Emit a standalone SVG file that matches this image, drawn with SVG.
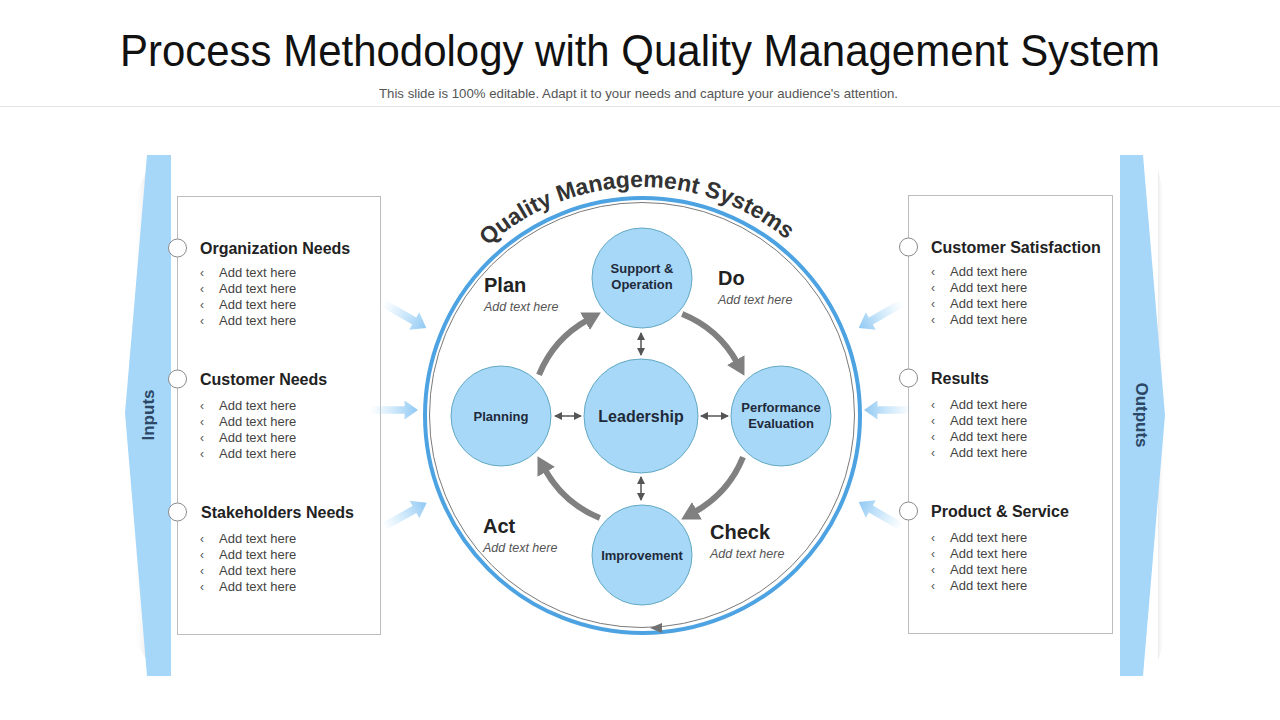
<svg xmlns="http://www.w3.org/2000/svg" width="1280" height="720" viewBox="0 0 1280 720">
<defs>
<style>
.title{font-family:"Liberation Sans",Arial,sans-serif;font-size:44px;fill:#111;}
.sub{font-family:"Liberation Sans",Arial,sans-serif;font-size:13px;fill:#555;}
.head{font-family:"Liberation Sans",Arial,sans-serif;font-size:16px;font-weight:bold;fill:#222;}
.item{font-family:"Liberation Sans",Arial,sans-serif;font-size:13px;fill:#444;}
.bul{font-family:"Liberation Sans",Arial,sans-serif;font-size:12px;fill:#555;}
.bar{fill:#a6d7f9;}
.barlbl{font-family:"Liberation Sans",Arial,sans-serif;font-size:17px;font-weight:bold;fill:#2c4866;}
.node{fill:#a8d8f8;stroke:#62a9c2;stroke-width:1;}
.nlbl{font-family:"Liberation Sans",Arial,sans-serif;font-size:13px;font-weight:bold;fill:#1e2a3a;text-anchor:middle;}
.phase{font-family:"Liberation Sans",Arial,sans-serif;font-size:20px;font-weight:bold;fill:#222;}
.phsub{font-family:"Liberation Sans",Arial,sans-serif;font-size:12.5px;font-style:italic;fill:#555;}
.panel{fill:#fff;stroke:#bdbdbd;stroke-width:1;}
.dot{fill:#fff;stroke:#8a8a8a;stroke-width:1;}
.cyc{fill:none;stroke:#808080;stroke-width:6;marker-end:url(#bigHead);}
.dbl{fill:none;stroke:#555;stroke-width:1.5;marker-start:url(#smallHead);marker-end:url(#smallHead);}
.inarrow{fill:url(#fadeGrad);}
</style>
<marker id="bigHead" markerUnits="userSpaceOnUse" viewBox="0 0 18 20" refX="3" refY="10" markerWidth="18" markerHeight="20" orient="auto">
<path d="M0,0 L18,10 L0,20 z" fill="#808080"/>
</marker>
<marker id="smallHead" markerUnits="userSpaceOnUse" viewBox="0 0 8 8" refX="7" refY="4" markerWidth="8" markerHeight="8" orient="auto-start-reverse">
<path d="M0,0 L8,4 L0,8 z" fill="#555"/>
</marker>
<linearGradient id="fadeGrad" x1="0" y1="0" x2="1" y2="0">
<stop offset="0" stop-color="#a6d7f9" stop-opacity="0"/>
<stop offset="1" stop-color="#8fc8f3" stop-opacity="1"/>
</linearGradient>
<linearGradient id="shadowL" x1="1" y1="0" x2="0" y2="0">
<stop offset="0" stop-color="#e6e6e6" stop-opacity="0.8"/>
<stop offset="1" stop-color="#ffffff" stop-opacity="0"/>
</linearGradient>
<linearGradient id="shadowR" x1="0" y1="0" x2="1" y2="0">
<stop offset="0" stop-color="#e6e6e6" stop-opacity="0.8"/>
<stop offset="1" stop-color="#ffffff" stop-opacity="0"/>
</linearGradient>
<path id="arcText" d="M413,415 A228,228 0 0 1 869,415"/>
<path id="inArrow" d="M0,-4 L36,-4 L36,-10 L50,0 L36,10 L36,4 L0,4 z"/>
</defs>

<rect x="0" y="0" width="1280" height="720" fill="#ffffff"/>

<g id="header">
<text class="title" x="640" y="66" text-anchor="middle" textLength="1040" lengthAdjust="spacingAndGlyphs">Process Methodology with Quality Management System</text>
<text class="sub" x="638.5" y="98" text-anchor="middle" textLength="519" lengthAdjust="spacingAndGlyphs">This slide is 100% editable. Adapt it to your needs and capture your audience's attention.</text>
<line x1="0" y1="106.5" x2="1280" y2="106.5" stroke="#e3e3e3" stroke-width="1"/>
</g>

<g id="inputs-bar">
<polygon points="133,200 147,170 147,660 133,640" fill="url(#shadowL)"/>
<polygon class="bar" points="147,155 171,155 171,676 147,676 125,413"/>
<text class="barlbl" transform="translate(154,415) rotate(-90)" text-anchor="middle">Inputs</text>
</g>

<g id="outputs-bar">
<polygon points="1165,200 1158,170 1158,660 1165,640" fill="url(#shadowR)"/>
<polygon class="bar" points="1120,155 1143,155 1165,415 1143,676 1120,676"/>
<text class="barlbl" transform="translate(1136,415) rotate(90)" text-anchor="middle">Outputs</text>
</g>

<g id="inputs-panel">
<rect class="panel" x="177.5" y="196.5" width="203" height="438"/>
</g>
<g id="input-organization-needs">
<circle class="dot" cx="177.5" cy="248" r="9"/>
<text class="head" x="200" y="254">Organization Needs</text>
<text class="bul" x="200" y="277">‹</text><text class="item" x="219" y="277">Add text here</text>
<text class="bul" x="200" y="293">‹</text><text class="item" x="219" y="293">Add text here</text>
<text class="bul" x="200" y="309">‹</text><text class="item" x="219" y="309">Add text here</text>
<text class="bul" x="200" y="325">‹</text><text class="item" x="219" y="325">Add text here</text>
</g>
<g id="input-customer-needs">
<circle class="dot" cx="177.5" cy="379" r="9"/>
<text class="head" x="200" y="385">Customer Needs</text>
<text class="bul" x="200" y="410">‹</text><text class="item" x="219" y="410">Add text here</text>
<text class="bul" x="200" y="426">‹</text><text class="item" x="219" y="426">Add text here</text>
<text class="bul" x="200" y="442">‹</text><text class="item" x="219" y="442">Add text here</text>
<text class="bul" x="200" y="458">‹</text><text class="item" x="219" y="458">Add text here</text>
</g>
<g id="input-stakeholders-needs">
<circle class="dot" cx="177.5" cy="512" r="9"/>
<text class="head" x="201" y="518">Stakeholders Needs</text>
<text class="bul" x="200" y="543">‹</text><text class="item" x="219" y="543">Add text here</text>
<text class="bul" x="200" y="559">‹</text><text class="item" x="219" y="559">Add text here</text>
<text class="bul" x="200" y="575">‹</text><text class="item" x="219" y="575">Add text here</text>
<text class="bul" x="200" y="591">‹</text><text class="item" x="219" y="591">Add text here</text>
</g>

<g id="outputs-panel">
<rect class="panel" x="908.5" y="195.5" width="204" height="438"/>
</g>
<g id="output-customer-satisfaction">
<circle class="dot" cx="908.5" cy="247" r="9"/>
<text class="head" x="931" y="253">Customer Satisfaction</text>
<text class="bul" x="931" y="276">‹</text><text class="item" x="950" y="276">Add text here</text>
<text class="bul" x="931" y="292">‹</text><text class="item" x="950" y="292">Add text here</text>
<text class="bul" x="931" y="308">‹</text><text class="item" x="950" y="308">Add text here</text>
<text class="bul" x="931" y="324">‹</text><text class="item" x="950" y="324">Add text here</text>
</g>
<g id="output-results">
<circle class="dot" cx="908.5" cy="378" r="9"/>
<text class="head" x="931" y="384">Results</text>
<text class="bul" x="931" y="409">‹</text><text class="item" x="950" y="409">Add text here</text>
<text class="bul" x="931" y="425">‹</text><text class="item" x="950" y="425">Add text here</text>
<text class="bul" x="931" y="441">‹</text><text class="item" x="950" y="441">Add text here</text>
<text class="bul" x="931" y="457">‹</text><text class="item" x="950" y="457">Add text here</text>
</g>
<g id="output-product-service">
<circle class="dot" cx="908.5" cy="511" r="9"/>
<text class="head" x="931" y="517">Product &amp; Service</text>
<text class="bul" x="931" y="542">‹</text><text class="item" x="950" y="542">Add text here</text>
<text class="bul" x="931" y="558">‹</text><text class="item" x="950" y="558">Add text here</text>
<text class="bul" x="931" y="574">‹</text><text class="item" x="950" y="574">Add text here</text>
<text class="bul" x="931" y="590">‹</text><text class="item" x="950" y="590">Add text here</text>
</g>

<g id="qms-ring">
<circle cx="642.5" cy="415.5" r="217.5" fill="none" stroke="#4da3e2" stroke-width="4"/>
<circle cx="642" cy="415" r="212.5" fill="none" stroke="#7a7a7a" stroke-width="1"/>
<path d="M650,628 L662,623 L662,633 z" fill="#707070"/>
<text font-family="'Liberation Sans',Arial,sans-serif" font-size="23" font-weight="bold" fill="#333">
<textPath href="#arcText" startOffset="49.3%" text-anchor="middle">Quality Management Systems</textPath>
</text>
</g>

<g id="connectors">
<use href="#inArrow" class="inarrow" transform="translate(383,303) rotate(30)"/>
<use href="#inArrow" class="inarrow" transform="translate(370,410) scale(0.96,0.95)"/>
<use href="#inArrow" class="inarrow" transform="translate(383,527) rotate(-29)"/>
<use href="#inArrow" class="inarrow" transform="translate(902,303) rotate(150)"/>
<use href="#inArrow" class="inarrow" transform="translate(912,410) rotate(180) scale(0.96,0.95)"/>
<use href="#inArrow" class="inarrow" transform="translate(902,527) rotate(-150)"/>

<path class="cyc" d="M539,374.8 A110,110 0 0 1 587.7,319.8"/>
<path class="cyc" d="M682.2,314 A110,110 0 0 1 737.2,362.7"/>
<path class="cyc" d="M743,457.2 A110,110 0 0 1 694.3,512.2"/>
<path class="cyc" d="M599.8,518 A110,110 0 0 1 544.8,469.3"/>

<line class="dbl" x1="641" y1="333" x2="641" y2="355"/>
<line class="dbl" x1="641" y1="477" x2="641" y2="500"/>
<line class="dbl" x1="555" y1="416" x2="581" y2="416"/>
<line class="dbl" x1="701" y1="416" x2="728" y2="416"/>
</g>

<g id="node-support-operation">
<circle class="node" cx="642" cy="278" r="50"/>
<text class="nlbl" x="642" y="273">Support &amp;</text>
<text class="nlbl" x="642" y="289">Operation</text>
</g>
<g id="node-planning">
<circle class="node" cx="501" cy="416" r="50"/>
<text class="nlbl" x="501" y="421">Planning</text>
</g>
<g id="node-leadership">
<circle class="node" cx="641" cy="416" r="57"/>
<text class="nlbl" x="641" y="422" style="font-size:16px">Leadership</text>
</g>
<g id="node-performance-evaluation">
<circle class="node" cx="781" cy="416" r="50"/>
<text class="nlbl" x="781" y="412">Performance</text>
<text class="nlbl" x="781" y="428">Evaluation</text>
</g>
<g id="node-improvement">
<circle class="node" cx="642" cy="555" r="50"/>
<text class="nlbl" x="642" y="560">Improvement</text>
</g>

<g id="label-plan">
<text class="phase" x="484" y="292">Plan</text>
<text class="phsub" x="484" y="311">Add text here</text>
</g>
<g id="label-do">
<text class="phase" x="718" y="285">Do</text>
<text class="phsub" x="718" y="304">Add text here</text>
</g>
<g id="label-act">
<text class="phase" x="483" y="533">Act</text>
<text class="phsub" x="483" y="552">Add text here</text>
</g>
<g id="label-check">
<text class="phase" x="710" y="539">Check</text>
<text class="phsub" x="710" y="558">Add text here</text>
</g>
</svg>
